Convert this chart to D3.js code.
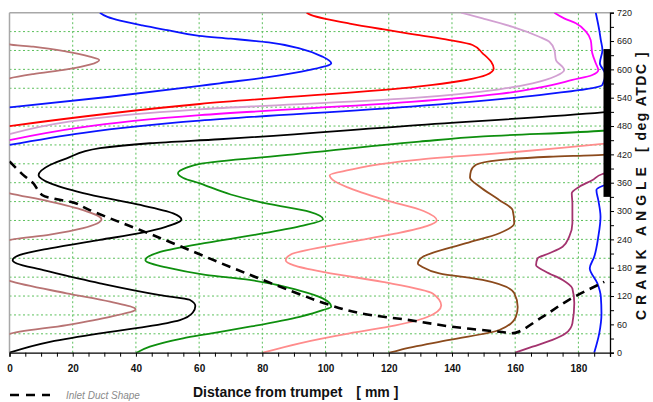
<!DOCTYPE html>
<html><head><meta charset="utf-8">
<script src="https://cdn.jsdelivr.net/npm/d3@7"></script>
<style>
body{margin:0;background:#fff;}
svg{display:block;font-family:"Liberation Sans",Arial,sans-serif;}
</style></head><body>
<svg id="chart" width="653" height="402"></svg>
<script>
// Particle paths in the inlet duct: [crank angle (deg ATDC), distance from trumpet (mm)]
const pathRosy = [[0,-6],[39.6,0],[58.6,18.1],[76,31.8],[92,39.9],[108,31.8],[125.8,18.1],[152,0],[195,-10],[238.7,0],[250,12.8],[263.6,23.3],[282.5,29.1],[302,23.3],[320,12.8],[337.5,0],[450,-40],[581,0],[590,7.5],[600,18.1],[610,25.4],[620,28.4],[627,25.4],[637.5,18.1],[648,7.5],[653,0],[720,-12]];
const pathBlack = [[0,0],[23,12.8],[41,28.6],[55,43.3],[69,53.9],[85,58],[99,58.8],[112,57],[122,47.6],[147,28.6],[175,10.7],[189,2.3],[196,1.0],[207,3.3],[221,12.8],[239,28.6],[253,41.2],[267,49.7],[282,54.4],[295,51.8],[316,39.1],[338,23.3],[359,12.8],[376,9.2],[397.5,12.8],[411.7,18.1],[433,28.6],[443.5,44.4],[452,66.5],[480,125],[509,187.6],[511,191]];
const pathGreen = [[0,40.2],[12.7,44.4],[30.5,54.9],[40,63],[55,76],[76,91.8],[90,99.1],[97.5,101.8],[115,99.1],[131.6,91.8],[154,76],[165,62],[180,50],[196,43],[212,47],[230,60],[250,78],[268,92],[282.5,99.2],[298,95],[315,82],[335,70],[358.7,60.2],[370,55],[380,53.3],[392,56],[400,60.2],[420,90],[447,129.7],[458,150],[470,187.6],[473,192]];
const pathSalmon = [[0,80.2],[20,91.8],[41,107.6],[55,120],[75,132],[100,136.6],[125,134],[150,118],[170,100],[185,90],[196,87.4],[208,89],[230,104],[252,122],[268,132],[280,135.2],[300,131],[323,119],[350,107],[365,102.5],[376,101.3],[387,107.6],[400,118],[409,129.7],[425,160],[442,187.6],[444,191]];
const pathBrown = [[0,120.2],[5.7,123.4],[27,139.2],[48,155],[76,160.2],[97,160.8],[126,159.7],[154,149.7],[168,136],[182,130.5],[189,129.2],[196,129.6],[203,130.8],[232,144.5],[253,155],[274,159.7],[302,159.2],[323,155],[352,148.7],[371,145.7],[385,146],[398,147.6],[408,155],[415,170.8],[419,187.6],[421,191]];
const pathPurple = [[0,160],[12.7,165.5],[27,171.8],[41,176],[62,178.1],[104.6,178.7],[136,178.1],[154,175],[171.5,169.7],[185.7,166.6],[200,167.1],[210.5,170.8],[224.5,175],[245.6,177.1],[274,178.1],[316,178.1],[337.6,177.9],[351.5,180.3],[365.7,184.5],[378.4,187.6],[382,191]];
const pathBlueEnd = [[0,185],[41,186.6],[83,187.3],[118.6,187.1],[147,186],[178.7,183.6],[203,185],[245.6,186.3],[288,187],[323,186.3],[344.5,185.7],[353,187.6],[360,191]];
const pathBlueLow = [[440,0],[491.4,60.2],[521,127],[545.5,167.6],[567,187.6],[590,188.5],[613,186.8],[641,187.6],[662,187.1],[683,186.6],[720,185.5]];
const pathMagenta = [[450.4,0],[503,60.2],[531,127],[548,155],[562,168],[577.5,178.1],[588,184.4],[598.7,186.3],[613,185.5],[634,184.4],[662,183.9],[680,182.4],[697.6,179.2],[708,175.5],[720,172.4]];
const pathPlum = [[463,0],[515.4,60.2],[539,127],[557.8,155],[570.5,165.5],[586,172.9],[598.7,175.5],[620,172.9],[641,172.4],[658.6,170.8],[669,167.6],[690,159.2],[708,149.7],[720,142.9]];
const pathRed = [[480,0],[526.7,60.2],[562,127],[567,133.9],[577.5,144.5],[588,150.8],[602,153.2],[616,152.4],[634,149.7],[651.6,146.5],[662,139.2],[673,129],[685,118],[697,107.6],[707,100],[715,95.5],[720,94]];
const pathBlueHigh = [[519.7,0],[542,31.8],[565,60.2],[570.5,66.5],[583,81.3],[598.7,95],[613,101.8],[627,99],[644,92],[657,82],[665,70],[671,60],[683,50],[693,42],[703,35],[711,31],[720,28.6]];

// Inlet duct profile: [distance (mm), plotted value]
const ductShape = [[0,405],[4.4,376],[7.5,359],[10.3,334],[15,325],[20.7,317],[25.4,302],[47.6,243],[76,165],[101.3,101],[110.7,84],[126.5,69],[140,55],[155,44.5],[160,42],[168,73],[177,112],[188.2,150]];

// Intake valve open period shown on the angle axis (deg)
const valveOpen = [330, 643];

const xTicks = [0,20,40,60,80,100,120,140,160,180];
const yTicks = [0,60,120,180,240,300,360,420,480,540,600,660,720];

const series = [
  {data: pathRosy, color: "#b87373"},
  {data: pathBlack, color: "#000000"},
  {data: pathGreen, color: "#0e8f0e"},
  {data: pathSalmon, color: "#ff8c8c"},
  {data: pathBrown, color: "#8b4a1c"},
  {data: pathPurple, color: "#a3336e"},
  {data: pathBlueEnd, color: "#0a14ff"},
  {data: pathBlueLow, color: "#0a14ff"},
  {data: pathMagenta, color: "#ff00ff"},
  {data: pathPlum, color: "#d2a0d2"},
  {data: pathRed, color: "#ff0000"},
  {data: pathBlueHigh, color: "#0a14ff"}
];

const svg = d3.select("#chart");
const x = d3.scaleLinear().domain([0,190]).range([9.5,610]);
const y = d3.scaleLinear().domain([0,720]).range([352.7,12.7]);

svg.append("defs").append("clipPath").attr("id","plotClip")
  .append("rect").attr("x",x(0)).attr("y",y(720)).attr("width",x(190)-x(0)).attr("height",y(0)-y(720));

// grid
const grid = svg.append("g").attr("stroke","#5cc05c").attr("stroke-width",1).attr("stroke-dasharray","2,2.5");
grid.selectAll("line.v").data(d3.range(20,190,20)).join("line")
  .attr("x1",d=>x(d)).attr("x2",d=>x(d)).attr("y1",y(0)).attr("y2",y(720));
grid.selectAll("line.h").data(d3.range(40,720,40)).join("line")
  .attr("x1",x(0)).attr("x2",x(190)).attr("y1",d=>y(d)).attr("y2",d=>y(d));

// frame (top and left)
svg.append("line").attr("x1",x(0)).attr("x2",x(190)).attr("y1",y(720)).attr("y2",y(720)).attr("stroke","#a8a8a8").attr("stroke-width",1.5);
svg.append("line").attr("x1",x(0)).attr("x2",x(0)).attr("y1",y(0)).attr("y2",y(720)).attr("stroke","#a8a8a8").attr("stroke-width",1.5);

const plot = svg.append("g").attr("clip-path","url(#plotClip)");
const line = d3.line().x(d=>x(d[1])).y(d=>y(d[0])).curve(d3.curveMonotoneY);
plot.selectAll("path.p").data(series).join("path")
  .attr("fill","none").attr("stroke",d=>d.color).attr("stroke-width",1.8)
  .attr("d",d=>line(d.data));

const duct = d3.line().x(d=>x(d[0])).y(d=>y(d[1])).curve(d3.curveCatmullRom);
plot.append("path").attr("d",duct(ductShape)).attr("fill","none")
  .attr("stroke","#000").attr("stroke-width",2.6).attr("stroke-dasharray","9,6");

// valve-open bar along the angle axis
svg.append("rect").attr("x",x(190)-6.5).attr("width",6.5)
  .attr("y",y(valveOpen[1])).attr("height",y(valveOpen[0])-y(valveOpen[1])).attr("fill","#000");

// bottom axis
const xAxis = d3.axisBottom(x).tickValues(d3.range(0,191,5)).tickSize(4).tickPadding(8)
  .tickFormat(d => xTicks.includes(d) ? d : "");
const gx = svg.append("g").attr("transform",`translate(0,${y(0)})`).call(xAxis);
gx.select(".domain").attr("stroke","#000").attr("stroke-width",1.3);
gx.selectAll(".tick line").attr("stroke","#000");
gx.selectAll("text").attr("font-size",10).attr("font-weight","bold").attr("fill","#111");

// right axis
const yAxis = d3.axisRight(y).tickValues(d3.range(0,721,30)).tickSize(4).tickPadding(3)
  .tickFormat(d => yTicks.includes(d) ? d : "");
const gy = svg.append("g").attr("transform",`translate(${x(190)},0)`).call(yAxis);
gy.select(".domain").attr("stroke","#000").attr("stroke-width",1.3);
gy.selectAll(".tick line").attr("stroke","#000");
gy.selectAll("text").attr("font-size",9).attr("fill","#222")
  .attr("font-family","'Liberation Sans Narrow','Liberation Sans',Arial,sans-serif");

// axis titles
const yt = svg.append("text").attr("transform","translate(646,320) rotate(-90)")
  .attr("font-size",14).attr("font-weight","bold").attr("fill","#111");
yt.append("tspan").attr("letter-spacing","5px").text("CRANK ANGLE");
yt.append("tspan").attr("dx",10).attr("letter-spacing","1.5px").text("[ deg ATDC ]");

const xt = svg.append("text").attr("x",193).attr("y",397)
  .attr("font-size",14).attr("font-weight","bold").attr("fill","#111");
xt.append("tspan").text("Distance from trumpet");
xt.append("tspan").attr("dx",14).text("[ mm ]");

// legend
svg.append("line").attr("x1",10).attr("x2",50).attr("y1",395).attr("y2",395)
  .attr("stroke","#000").attr("stroke-width",2.6).attr("stroke-dasharray","9,7");
svg.append("text").attr("x",66).attr("y",398.5).attr("font-size",10).attr("font-style","italic")
  .attr("fill","#8a8a8a").text("Inlet Duct Shape");
</script></body></html>
